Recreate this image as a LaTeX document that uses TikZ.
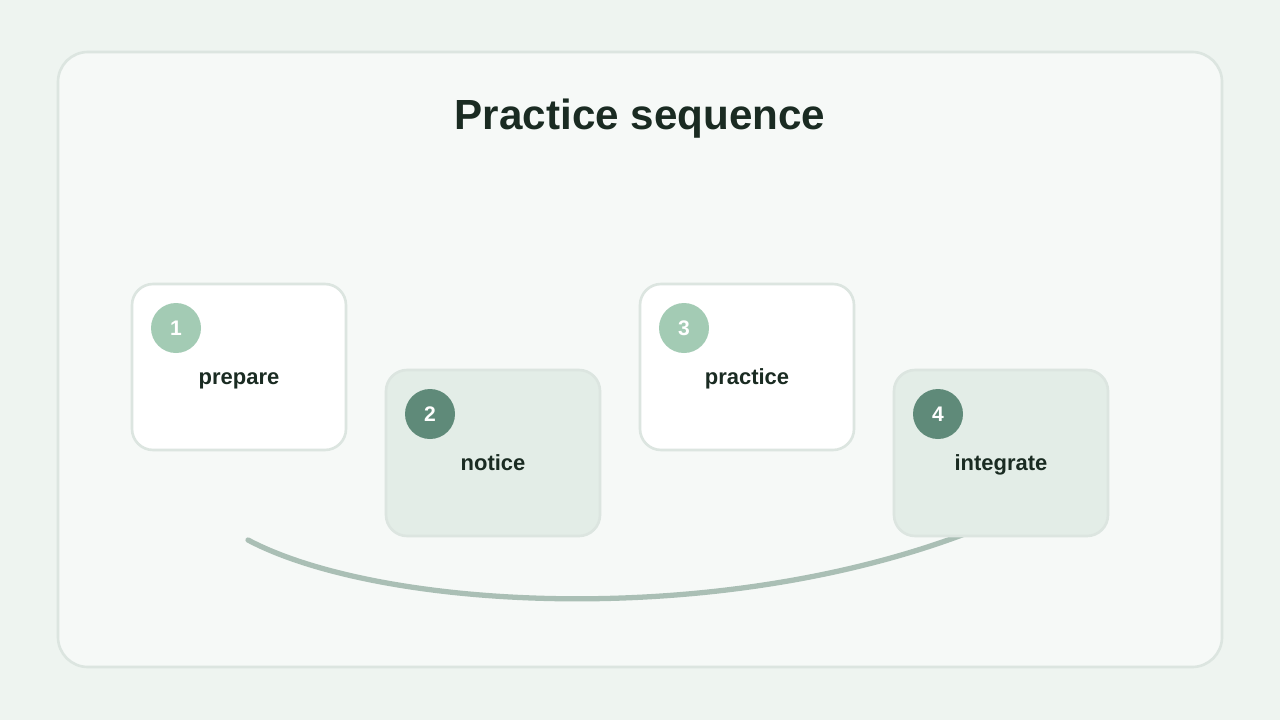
\documentclass[tikz,border=0pt]{standalone}
\usepackage{fontspec}
\setmainfont{Liberation Sans}
\definecolor{bgcol}{HTML}{EEF4F0}
\definecolor{cardcol}{HTML}{F6F9F7}
\definecolor{edgecol}{HTML}{DCE5E0}
\definecolor{softcol}{HTML}{E3EDE7}
\definecolor{lightdot}{HTML}{A3CBB4}
\definecolor{darkdot}{HTML}{5F8A79}
\definecolor{curvecol}{HTML}{AABFB5}
\definecolor{inkcol}{HTML}{1A2B22}
\tikzset{
  stepbox/.style={draw=edgecol, line width=1.5pt, rounded corners=12pt, minimum width=214*0.02cm, minimum height=166*0.02cm},
  plain/.style={stepbox, fill=white},
  soft/.style={stepbox, fill=softcol},
  dot/.style={circle, minimum size=50*0.02cm, inner sep=0pt, text=white, font=\bfseries\fontsize{12}{12}\selectfont},
  word/.style={text=inkcol, anchor=base, inner sep=0pt, font=\bfseries\fontsize{12.5}{14}\selectfont}
}
\begin{document}
\begin{tikzpicture}[x=0.02cm, y=-0.02cm]
    \fill[bgcol] (0,0) rectangle (1280,720);
    \useasboundingbox (0,0) rectangle (1280,720);
    % card
    \draw[edgecol, fill=cardcol, line width=1.5pt, rounded corners=17pt] (58,52) rectangle (1222,667);
    \node[text=inkcol, anchor=base, inner sep=0pt, font=\bfseries\fontsize{24}{26}\selectfont] (title) at (640,129) {Practice sequence};

    % path
    \coordinate (arcstart) at (248,540);
    \coordinate (arcend) at (975,530);
    \draw[curvecol, line width=3pt, line cap=round] (arcstart) .. controls (380,610) and (720,630) .. (arcend);

    % steps
    \node[plain] (prepare) at (239,367) {};
    \node[soft] (notice) at (493,453) {};
    \node[plain] (practice) at (747,367) {};
    \node[soft] (integrate) at (1001,453) {};
    \foreach \n/\t/\c/\i in {prepare/prepare/lightdot/1, notice/notice/darkdot/2, practice/practice/lightdot/3, integrate/integrate/darkdot/4} {
        \node[dot, fill=\c] (\n-num) at ([xshift=-63*0.02cm, yshift=39*0.02cm]\n.center) {\i};
        \node[word] (\n-label) at ([yshift=-17*0.02cm]\n.center) {\t};
    }
\end{tikzpicture}
\end{document}
